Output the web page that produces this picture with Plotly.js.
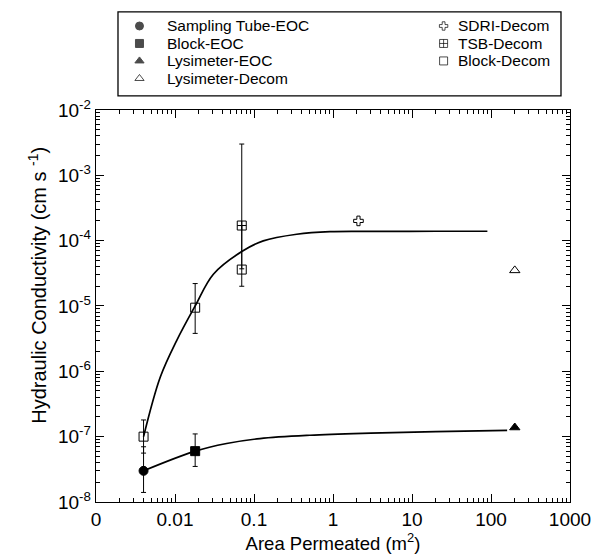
<!DOCTYPE html>
<html>
<head>
<meta charset="utf-8">
<script src="https://cdn.plot.ly/plotly-3.0.1.min.js"></script>
<style>html,body{margin:0;padding:0;background:#fff;}#chart{width:599px;height:554px;}</style>
</head>
<body>
<div id="chart"></div>
<script>
// ---- data ----
const samplingTubeX = [0.004];
const samplingTubeY = [3.0e-8];
const samplingTubeHi = [7.0e-8];
const samplingTubeLo = [1.4e-8];

const blockEocX = [0.018];
const blockEocY = [6.0e-8];
const blockEocHi = [1.1e-7];
const blockEocLo = [3.5e-8];

const lysEocX = [200];
const lysEocY = [1.38e-7];

const lysDecomX = [200];
const lysDecomY = [3.5e-5];

const sdriX = [2.1];
const sdriY = [2.0e-4];

const tsbX = [0.07];
const tsbY = [1.7e-4];
const tsbHi = [3.0e-3];
const tsbLo = [3.7e-5];

const blockDecomX = [0.004, 0.018, 0.07];
const blockDecomY = [1.0e-7, 9.4e-6, 3.6e-5];
const blockDecomHi = [1.8e-7, 2.2e-5, 1.7e-4];
const blockDecomLo = [5.6e-8, 3.8e-6, 2.0e-5];

const upperCurveX = [0.004, 0.0065, 0.0105, 0.018, 0.0306, 0.07, 0.131, 0.347, 0.916, 3.9, 20, 90];
const upperCurveY = [1.0e-7, 8.1e-7, 2.95e-6, 1.0e-5, 3.06e-5, 6.8e-5, 9.9e-5, 1.25e-4, 1.37e-4, 1.38e-4, 1.39e-4, 1.39e-4];

const lowerCurveX = [0.004, 0.018, 0.045, 0.119, 0.51, 3, 20, 160];
const lowerCurveY = [3.0e-8, 6.0e-8, 7.85e-8, 9.35e-8, 1.05e-7, 1.13e-7, 1.19e-7, 1.25e-7];

const seriesNamesLeft = ['Sampling Tube-EOC', 'Block-EOC', 'Lysimeter-EOC', 'Lysimeter-Decom'];
const seriesNamesRight = ['SDRI-Decom', 'TSB-Decom', 'Block-Decom'];

const xTickVals = [0.001, 0.01, 0.1, 1, 10, 100, 1000];
const xTickText = ['0', '0.01', '0.1', '1', '10', '100', '1000'];
const yTickVals = [1e-8, 1e-7, 1e-6, 1e-5, 1e-4, 1e-3, 1e-2];
const yTickText = ['10<sup>-8</sup>', '10<sup>-7</sup>', '10<sup>-6</sup>', '10<sup>-5</sup>', '10<sup>-4</sup>', '10<sup>-3</sup>', '10<sup>-2</sup>'];

// ---- helpers ----
function errs(y, hi, lo) {
  return {
    type: 'data', symmetric: false,
    array: y.map((v, i) => hi[i] - v),
    arrayminus: y.map((v, i) => v - lo[i]),
    color: 'black', thickness: 1, width: 2.5
  };
}
function minorVals(lo, hi) {
  const out = [];
  for (let e = lo; e < hi; e++) for (let m = 2; m <= 9; m++) out.push(m * Math.pow(10, e));
  return out;
}

const FONT = 'Liberation Sans, Arial, Helvetica, sans-serif';

// symbols per series
const symLeft = ['circle', 'square', 'triangle-up', 'triangle-up-open'];
const symRight = ['cross-open', 'square-cross-open', 'square-open'];
const mk = (symbol, size) => ({symbol: symbol, size: size, color: 'black', line: {color: 'black', width: 1}});

const traces = [
  {x: upperCurveX, y: upperCurveY, mode: 'lines', line: {color: 'black', width: 1.7, shape: 'spline', smoothing: 1}, showlegend: false, hoverinfo: 'skip'},
  {x: lowerCurveX, y: lowerCurveY, mode: 'lines', line: {color: 'black', width: 1.7, shape: 'spline', smoothing: 1}, showlegend: false, hoverinfo: 'skip'},
  {name: seriesNamesLeft[0], x: samplingTubeX, y: samplingTubeY, mode: 'markers', marker: mk(symLeft[0], 9), error_y: errs(samplingTubeY, samplingTubeHi, samplingTubeLo), showlegend: false},
  {name: seriesNamesLeft[1], x: blockEocX, y: blockEocY, mode: 'markers', marker: mk(symLeft[1], 9), error_y: errs(blockEocY, blockEocHi, blockEocLo), showlegend: false},
  {name: seriesNamesLeft[2], x: lysEocX, y: lysEocY, mode: 'markers', marker: mk(symLeft[2], 9), showlegend: false},
  {name: seriesNamesLeft[3], x: lysDecomX, y: lysDecomY, mode: 'markers', marker: mk(symLeft[3], 9), showlegend: false},
  {name: seriesNamesRight[0], x: sdriX, y: sdriY, mode: 'markers', marker: mk(symRight[0], 8), showlegend: false},
  {name: seriesNamesRight[1], x: tsbX, y: tsbY, mode: 'markers', marker: mk(symRight[1], 9), error_y: errs(tsbY, tsbHi, tsbLo), showlegend: false},
  {name: seriesNamesRight[2], x: blockDecomX, y: blockDecomY, mode: 'markers', marker: mk(symRight[2], 9), error_y: errs(blockDecomY, blockDecomHi, blockDecomLo), showlegend: false}
];

// ---- legend (drawn on a hidden helper axis pair above the plot) ----
const legRowY = [0.833, 0.625, 0.417, 0.208];
const legColL = {mark: 0.0485, text: 0.107};
const legColR = {mark: 0.735, text: 0.762};
traces.push({
  x: seriesNamesLeft.map(() => legColL.mark).concat(seriesNamesRight.map(() => legColR.mark)),
  y: legRowY.slice(0, 4).concat(legRowY.slice(0, 3)),
  xaxis: 'x2', yaxis: 'y2', mode: 'markers', showlegend: false, hoverinfo: 'skip',
  marker: {symbol: symLeft.concat(symRight), size: [8, 8, 8, 8, 7, 8, 8], color: 'black', line: {color: 'black', width: 1}}
});
const annotations = [];
seriesNamesLeft.forEach((n, i) => annotations.push({xref: 'x2', yref: 'y2', x: legColL.text, y: legRowY[i], text: n, showarrow: false, xanchor: 'left', yanchor: 'middle', font: {family: FONT, size: 15.5, color: 'black'}}));
seriesNamesRight.forEach((n, i) => annotations.push({xref: 'x2', yref: 'y2', x: legColR.text, y: legRowY[i], text: n, showarrow: false, xanchor: 'left', yanchor: 'middle', font: {family: FONT, size: 15.5, color: 'black'}}));
// y-axis title
annotations.push({xref: 'paper', yref: 'paper', x: -0.125, y: 0.4366, xanchor: 'center', yanchor: 'middle', textangle: -90, showarrow: false,
  text: 'Hydraulic Conductivity (cm s <sup>-1</sup>)', font: {family: FONT, size: 20, color: 'black'}});

const axisCommon = {
  type: 'log', showline: true, linecolor: 'black', linewidth: 1.3, mirror: 'allticks',
  ticks: 'inside', ticklen: 8, tickcolor: 'black', tickwidth: 1, showgrid: false, zeroline: false,
  tickmode: 'array', tickfont: {family: FONT, size: 19, color: 'black'}
};

const layout = {
  width: 599, height: 554,
  margin: {l: 96, r: 29, t: 5, b: 52},
  paper_bgcolor: 'white', plot_bgcolor: 'white',
  font: {family: FONT, color: 'black'},
  showlegend: false,
  xaxis: Object.assign({}, axisCommon, {
    range: [-3, 3], tickvals: xTickVals, ticktext: xTickText,
    minor: {tickmode: 'array', tickvals: minorVals(-3, 3), ticks: 'inside', ticklen: 4, tickcolor: 'black', showgrid: false},
    title: {text: 'Area Permeated (m<sup>2</sup>)', font: {family: FONT, size: 18.5, color: 'black'}, standoff: 3}
  }),
  yaxis: Object.assign({}, axisCommon, {
    domain: [0, 0.789],
    range: [-8, -2], tickvals: yTickVals, ticktext: yTickText,
    minor: {tickmode: 'array', tickvals: minorVals(-8, -2), ticks: 'inside', ticklen: 4, tickcolor: 'black', showgrid: false}
  }),
  xaxis2: {domain: [0.0464, 0.981], range: [0, 1], visible: false, anchor: 'y2', fixedrange: true},
  yaxis2: {domain: [0.817, 0.986], range: [0, 1], visible: false, anchor: 'x2', fixedrange: true},
  annotations: annotations,
  shapes: [
    {type: 'rect', xref: 'x2 domain', yref: 'y2 domain', x0: 0, x1: 1, y0: 0, y1: 1, line: {color: 'black', width: 1.3}, fillcolor: 'rgba(0,0,0,0)'}
  ]
};

Plotly.newPlot('chart', traces, layout, {displayModeBar: false, staticPlot: true});
</script>
</body>
</html>
